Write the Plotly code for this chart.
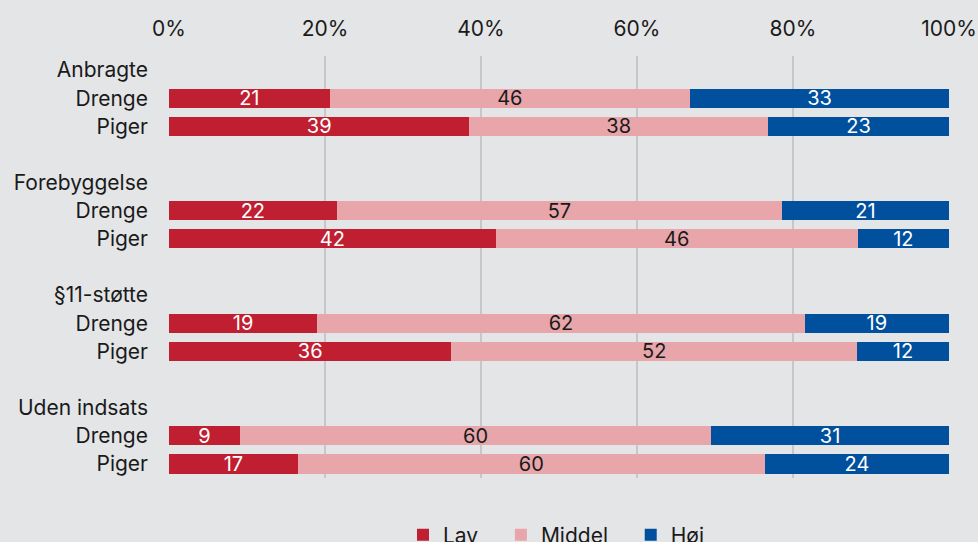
import plotly.graph_objects as go

groups = ["Anbragte", "Forebyggelse", "§11-støtte", "Uden indsats"]
genders = ["Drenge", "Piger"]

# order: Anbragte D, P, Forebyggelse D, P, §11 D, P, Uden D, P
lav = [20.6, 38.5, 21.5, 41.9, 19.0, 36.2, 9.1, 16.5]
middel = [46.2, 38.3, 57.1, 46.4, 62.5, 52.0, 60.4, 59.9]
hoej = [33.2, 23.2, 21.4, 11.7, 18.5, 11.8, 30.5, 23.6]
lav_lbl = ["21", "39", "22", "42", "19", "36", "9", "17"]
middel_lbl = ["46", "38", "57", "46", "62", "52", "60", "60"]
hoej_lbl = ["33", "23", "21", "12", "19", "12", "31", "24"]

series = [
    ("Lav", lav, lav_lbl, "#c01f32", "white"),
    ("Middel", middel, middel_lbl, "#e8a6ab", "#1a1a1a"),
    ("Høj", hoej, hoej_lbl, "#00509e", "white"),
]

ypos = []
tickvals = []
ticktext = []
for gi, g in enumerate(groups):
    base = gi * 4
    tickvals += [base, base + 1, base + 2]
    ticktext += [g, genders[0], genders[1]]
    ypos += [base + 1, base + 2]

pad = "\u00a0\u00a0\u00a0"
fig = go.Figure()
for name, vals, lbls, color, tcol in series:
    fig.add_trace(go.Bar(
        name=name + pad, x=vals, y=ypos, orientation="h",
        marker=dict(color=color, line=dict(width=0)),
        text=lbls, textposition="inside", insidetextanchor="middle",
        textangle=0, constraintext="none",
        textfont=dict(color=tcol, size=20, family="Inter"),
        width=0.68, hoverinfo="skip",
    ))

H = 560
fig.update_layout(
    barmode="stack",
    width=978, height=H,
    paper_bgcolor="#e4e5e7", plot_bgcolor="#e4e5e7",
    margin=dict(l=169, r=29, t=56, b=H - 478, autoexpand=False),
    font=dict(family="Inter", size=21, color="#1a1a1a"),
    xaxis=dict(
        side="top", range=[0, 100], tickvals=[0, 20, 40, 60, 80, 100],
        ticktext=["0%", "20%", "40%", "60%", "80%", "100%"],
        showgrid=True, gridcolor="#c6c7c9", gridwidth=2, zeroline=False,
        showline=False, ticks="", ticklabelstandoff=15, automargin=False,
        fixedrange=True,
    ),
    yaxis=dict(
        range=[14.5, -0.5], tickvals=tickvals, ticktext=ticktext,
        showgrid=False, zeroline=False, showline=False, ticks="",
        ticklabelstandoff=20, automargin=False, fixedrange=True,
    ),
    legend=dict(
        orientation="h", xref="container", yref="container",
        x=565 / 978, xanchor="center", y=1 - 535 / H, yanchor="middle",
        font=dict(size=21), bgcolor="rgba(0,0,0,0)", traceorder="normal",
    ),
    showlegend=True,
)

fig.write_html(
    "out.html",
    config={"displayModeBar": False},
    post_script="document.body.style.margin='0';document.body.style.overflow='hidden';document.documentElement.style.overflow='hidden';",
)
